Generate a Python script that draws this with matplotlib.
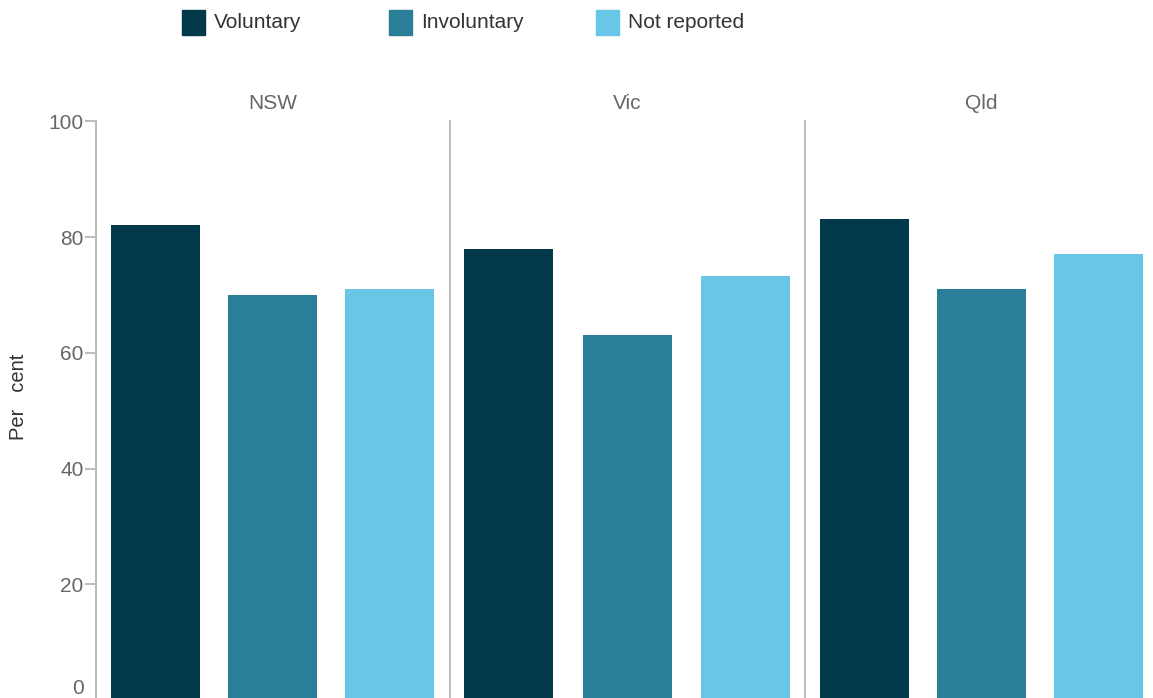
import matplotlib
matplotlib.use("Agg")
import matplotlib.pyplot as plt
from matplotlib.patches import Rectangle
from matplotlib.transforms import ScaledTranslation

# data (per cent)
states = ["NSW", "Vic", "Qld"]
series = ["Voluntary", "Involuntary", "Not reported"]
voluntary = [82.1, 78.0, 83.2]
involuntary = [70.0, 63.1, 71.1]
not_reported = [71.1, 73.3, 77.1]
yticks = [0, 20, 40, 60, 80, 100]

colors = ["#023a4b", "#2a7e98", "#69c6e7"]
axis_grey = "#bdbdbd"
label_grey = "#666666"
text_dark = "#333333"

plt.rcParams["font.family"] = ["Liberation Sans", "DejaVu Sans"]

W, H = 1153, 698
fig = plt.figure(figsize=(W / 100, H / 100), dpi=100)

# panel extents in pixels, offset of the first bar centre, bar spacing
panels = [(96, 450), (450, 805), (805, 1158)]
first_centre = [59.5, 58.5, 59.5]
steps = [117.0, 118.5, 117.0]
top_px, zero_px = 121.4, 700.0

values = list(zip(voluntary, involuntary, not_reported))

for i, (state, (x0, x1)) in enumerate(zip(states, panels)):
    step = steps[i]
    ax = fig.add_axes([x0 / W, (H - zero_px) / H, (x1 - x0) / W, (zero_px - top_px) / H])
    ax.bar(range(3), values[i], width=89 / step, color=colors)
    left = -first_centre[i] / step
    ax.set_xlim(left, left + (x1 - x0) / step)
    ax.set_ylim(0, 100)
    for side in ["top", "right", "bottom"]:
        ax.spines[side].set_visible(False)
    ax.spines["left"].set_color(axis_grey)
    ax.spines["left"].set_linewidth(1.5)
    ax.set_xticks([])
    if i == 0:
        ax.set_yticks(yticks)
        ax.tick_params(axis="y", length=8, width=1.5, color=axis_grey,
                       labelcolor=label_grey, labelsize=15, pad=1)
        # the zero label sits a little higher so it stays inside the picture
        zero_lbl = ax.get_yticklabels()[0]
        zero_lbl.set_transform(zero_lbl.get_transform() +
                               ScaledTranslation(0, 13 / 100, fig.dpi_scale_trans))
    else:
        ax.set_yticks([])
    ax.text(0.5, 1 + 18 / (zero_px - top_px), state, transform=ax.transAxes,
            ha="center", va="center", fontsize=15, color=label_grey)

fig.text(19 / W, 1 - 397 / H, "Per   cent", rotation=90, ha="center", va="center",
         fontsize=14.5, color=text_dark)

# legend across the top
for j, name in enumerate(series):
    lx = 182 + 207 * j
    fig.patches.append(Rectangle((lx / W, 1 - 35 / H), 23 / W, 25 / H,
                                 transform=fig.transFigure, color=colors[j]))
    fig.text((lx + 32) / W, 1 - 22.5 / H, name, ha="left", va="center",
             fontsize=15, color=text_dark)

plt.savefig("out.png", dpi=100)
